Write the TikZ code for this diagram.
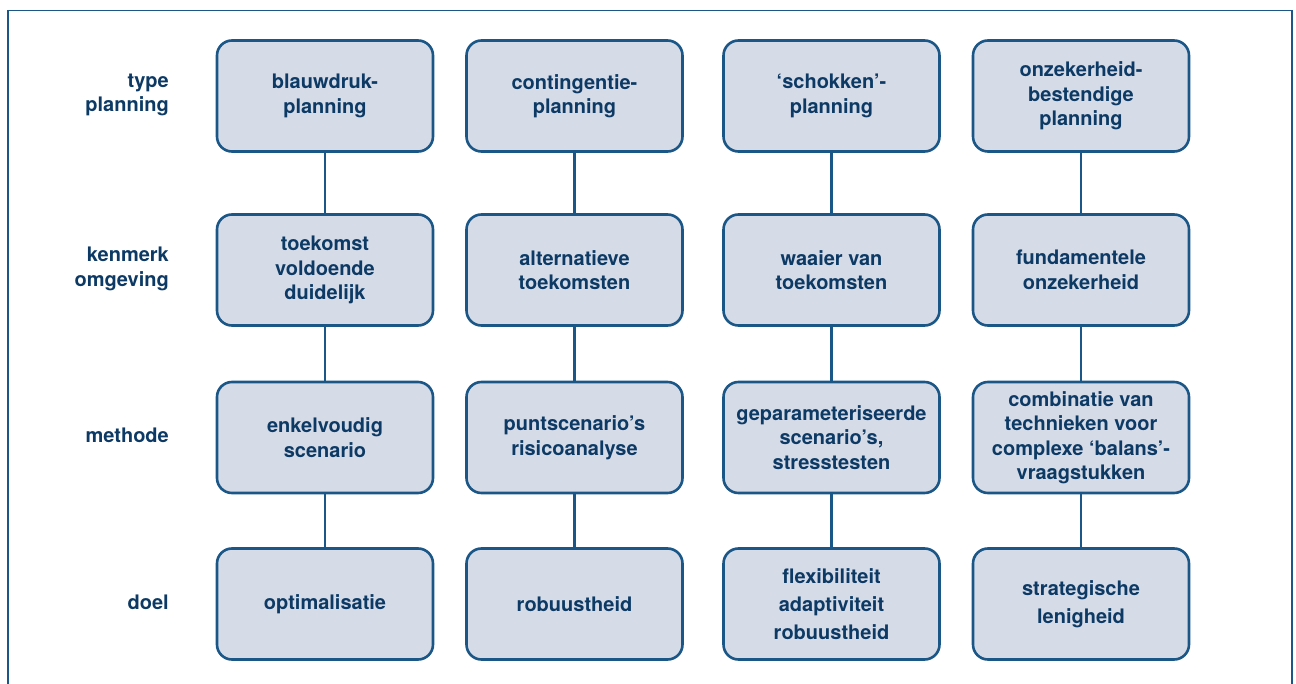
\documentclass[tikz,border=0pt]{standalone}
\usepackage{fontspec}
\setmainfont{TeX Gyre Heros}
\definecolor{navytext}{HTML}{0C3A64}
\definecolor{boxfill}{HTML}{D6DBE8}
\definecolor{boxline}{HTML}{1A5686}
\tikzset{
  cell/.style={draw=boxline, fill=boxfill, line width=2.6pt, rounded corners=15pt,
    minimum width=216pt, minimum height=111pt, align=center, text=navytext,
    font=\fontsize{20pt}{24.5pt}\selectfont\bfseries, inner sep=0pt},
  rowlabel/.style={anchor=east, align=right, text=navytext,
    font=\fontsize{20pt}{24.5pt}\selectfont\bfseries, inner sep=0pt},
  link/.style={draw=boxline, line width=2.4pt},
  frame/.style={draw=boxline, line width=1.2pt}
}
\begin{document}
\begin{tikzpicture}[x=1pt,y=-1pt]
\useasboundingbox (0,0) rectangle (1296,684);
\draw[frame] (8,700) -- (8,10.5) -- (1292,10.5) -- (1292,700);
% row labels
\node[rowlabel] (l1) at (169,95) {type\\planning};
\node[rowlabel] (l2) at (169,269) {kenmerk\\omgeving};
\node[rowlabel] (l3) at (169,435) {methode};
\node[rowlabel] (l4) at (169,602) {doel};
% column 1
\node[cell] (a1) at (325,96) {blauwdruk-\\planning};
\node[cell] (a2) at (325,270) {toekomst\\voldoende\\duidelijk};
\node[cell] (a3) at (325,437.5) {enkelvoudig\\scenario};
\node[cell] (a4) at (325,604) {optimalisatie};
% column 2
\node[cell] (b1) at (574.5,96) {contingentie-\\planning};
\node[cell] (b2) at (574.5,270) {alternatieve\\toekomsten};
\node[cell] (b3) at (574.5,437.5) {puntscenario’s\\risicoanalyse};
\node[cell] (b4) at (574.5,604) {robuustheid};
% column 3
\node[cell] (c1) at (831.5,96) {‘schokken’-\\planning};
\node[cell] (c2) at (831.5,270) {waaier van\\toekomsten};
\node[cell] (c3) at (831.5,437.5) {geparameteriseerde\\scenario’s,\\stresstesten};
\node[cell] (c4) at (831.5,604) {flexibiliteit\\[3.5pt]adaptiviteit\\[3.5pt]robuustheid};
% column 4
\node[cell] (d1) at (1081,96) {onzekerheid-\\bestendige\\planning};
\node[cell] (d2) at (1081,270) {fundamentele\\onzekerheid};
\node[cell] (d3) at (1081,437.5) {combinatie van\\technieken voor\\complexe ‘balans’-\\vraagstukken};
\node[cell] (d4) at (1081,604) {strategische\\[3pt]lenigheid};
% connectors
\foreach \c in {a,b,c,d}{
  \draw[link] (\c1.south) -- (\c2.north);
  \draw[link] (\c2.south) -- (\c3.north);
  \draw[link] (\c3.south) -- (\c4.north);
}
\end{tikzpicture}
\end{document}
